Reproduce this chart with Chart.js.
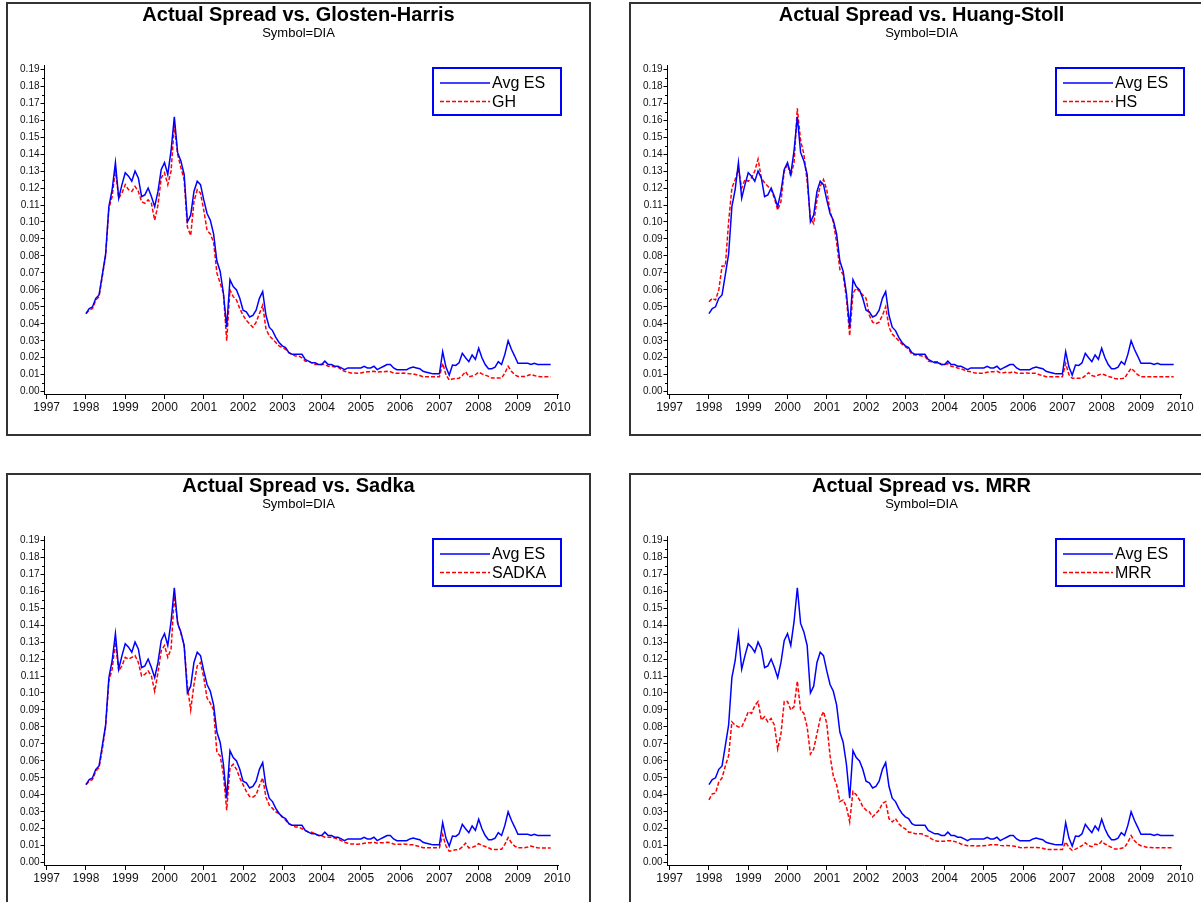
<!DOCTYPE html>
<html>
<head>
<meta charset="utf-8">
<script src="https://cdn.jsdelivr.net/npm/chart.js@4.4.1/dist/chart.umd.min.js"></script>
<style>
html,body{margin:0;padding:0;background:#fff;width:1201px;height:902px;overflow:hidden;}
.panel{position:absolute;width:585px;height:434px;border:2px solid #333;box-sizing:border-box;background:#fff;}
.panel canvas{position:absolute;left:0;top:0;}
</style>
</head>
<body>
<div class="panel" style="left:6px;top:2px"><canvas id="c0" width="581" height="430"></canvas></div>
<div class="panel" style="left:629px;top:2px"><canvas id="c1" width="581" height="430"></canvas></div>
<div class="panel" style="left:6px;top:473px"><canvas id="c2" width="581" height="430"></canvas></div>
<div class="panel" style="left:629px;top:473px"><canvas id="c3" width="581" height="430"></canvas></div>
<script>
// ---- data (monthly, Jan 1998 .. Nov 2009) ----
const startYear = 1998;
const xTickYears = [1997,1998,1999,2000,2001,2002,2003,2004,2005,2006,2007,2008,2009,2010];
const yMajorTicks = [0.00,0.01,0.02,0.03,0.04,0.05,0.06,0.07,0.08,0.09,0.10,0.11,0.12,0.13,0.14,0.15,0.16,0.17,0.18,0.19];
const panelTitles = ['Actual Spread vs. Glosten-Harris','Actual Spread vs. Huang-Stoll','Actual Spread vs. Sadka','Actual Spread vs. MRR'];
const subtitleText = 'Symbol=DIA';
const actualLabel = 'Avg ES';
const modelLabels = ['GH','HS','SADKA','MRR'];

const avgES = [
0.046,0.049,0.050,0.055,0.057,0.069,0.081,0.109,0.119,0.135,0.114,0.122,
0.129,0.127,0.124,0.130,0.126,0.115,0.116,0.120,0.115,0.109,0.118,0.131,
0.135,0.128,0.142,0.162,0.141,0.136,0.128,0.100,0.104,0.118,0.124,0.122,
0.113,0.105,0.101,0.093,0.077,0.071,0.058,0.038,0.066,0.062,0.060,0.055,
0.048,0.047,0.044,0.045,0.048,0.055,0.059,0.045,0.038,0.036,0.032,0.029,
0.027,0.026,0.023,0.022,0.022,0.022,0.022,0.019,0.018,0.017,0.017,0.016,
0.016,0.018,0.016,0.016,0.015,0.015,0.014,0.013,0.014,0.014,0.014,0.014,
0.014,0.015,0.014,0.014,0.015,0.013,0.014,0.015,0.016,0.016,0.014,0.013,
0.013,0.013,0.013,0.014,0.0145,0.014,0.0135,0.012,0.0115,0.011,0.0105,0.0105,
0.0105,0.0236,0.0145,0.0098,0.0157,0.0155,0.017,0.0226,0.020,0.0177,0.0216,0.019,
0.0256,0.020,0.016,0.0135,0.0135,0.0145,0.0177,0.016,0.022,0.030,0.025,0.021,
0.0167,0.0167,0.0167,0.0167,0.016,0.0167,0.016,0.016,0.016,0.016,0.016
];
const ghSpread = [
0.046,0.048,0.049,0.054,0.056,0.068,0.080,0.108,0.115,0.131,0.114,0.117,
0.122,0.119,0.118,0.121,0.118,0.112,0.111,0.113,0.111,0.101,0.110,0.126,
0.129,0.122,0.130,0.157,0.140,0.132,0.125,0.097,0.092,0.112,0.119,0.117,
0.107,0.095,0.093,0.088,0.070,0.064,0.058,0.030,0.060,0.056,0.054,0.049,
0.045,0.042,0.040,0.038,0.041,0.046,0.051,0.037,0.033,0.031,0.029,0.027,
0.026,0.025,0.023,0.022,0.021,0.021,0.020,0.018,0.018,0.017,0.016,0.016,
0.016,0.016,0.015,0.015,0.0145,0.0145,0.013,0.012,0.0115,0.011,0.011,0.0108,
0.011,0.0115,0.0118,0.0118,0.012,0.0115,0.0118,0.0118,0.012,0.0118,0.011,0.0108,
0.0108,0.011,0.0108,0.0105,0.0105,0.010,0.0095,0.0088,0.0088,0.0088,0.0088,0.0088,
0.0088,0.0167,0.010,0.0069,0.0075,0.0078,0.0079,0.0095,0.0118,0.0088,0.0092,0.010,
0.0115,0.0105,0.0098,0.009,0.008,0.008,0.008,0.008,0.011,0.015,0.012,0.010,
0.009,0.009,0.009,0.0095,0.0102,0.0095,0.009,0.0088,0.0088,0.0088,0.0088
];
const hsSpread = [
0.053,0.055,0.054,0.060,0.074,0.074,0.100,0.120,0.125,0.131,0.120,0.125,
0.124,0.126,0.130,0.137,0.126,0.123,0.121,0.119,0.114,0.107,0.112,0.130,
0.134,0.127,0.135,0.167,0.148,0.140,0.124,0.102,0.099,0.113,0.121,0.125,
0.119,0.106,0.100,0.088,0.072,0.069,0.055,0.033,0.058,0.061,0.059,0.057,
0.055,0.045,0.041,0.040,0.041,0.045,0.050,0.038,0.034,0.032,0.030,0.028,
0.0265,0.025,0.022,0.0216,0.0216,0.021,0.021,0.018,0.0177,0.0177,0.0177,0.016,
0.016,0.0165,0.015,0.0147,0.014,0.0135,0.0128,0.012,0.0118,0.0112,0.0108,0.0108,
0.011,0.0115,0.0118,0.0118,0.012,0.0112,0.0112,0.0115,0.0112,0.0118,0.011,0.0108,
0.0108,0.011,0.0108,0.0108,0.0108,0.010,0.0095,0.0088,0.0088,0.0088,0.0088,0.0088,
0.0088,0.0167,0.010,0.0079,0.0079,0.0079,0.0079,0.0095,0.0112,0.0095,0.009,0.0098,
0.0105,0.0098,0.009,0.0085,0.0078,0.0075,0.0077,0.0079,0.011,0.0138,0.012,0.010,
0.0088,0.0088,0.0088,0.0088,0.0088,0.0088,0.0088,0.0088,0.0088,0.0088,0.0088
];
const sadkaSpread = [
0.046,0.048,0.049,0.054,0.056,0.067,0.080,0.107,0.114,0.130,0.113,0.116,
0.121,0.120,0.121,0.122,0.118,0.110,0.111,0.113,0.110,0.101,0.112,0.125,
0.128,0.121,0.126,0.157,0.142,0.135,0.128,0.104,0.090,0.105,0.116,0.118,
0.109,0.097,0.094,0.090,0.065,0.063,0.052,0.031,0.056,0.058,0.055,0.050,
0.046,0.042,0.039,0.0386,0.040,0.0455,0.050,0.0386,0.034,0.032,0.030,0.029,
0.027,0.025,0.023,0.022,0.021,0.021,0.020,0.019,0.018,0.018,0.017,0.016,
0.016,0.015,0.015,0.015,0.0145,0.014,0.013,0.012,0.0115,0.011,0.011,0.0108,
0.011,0.0115,0.0118,0.0118,0.012,0.0115,0.0118,0.0118,0.012,0.0118,0.011,0.0108,
0.0108,0.011,0.0108,0.0105,0.0105,0.010,0.0095,0.0088,0.0088,0.0088,0.0088,0.0088,
0.0088,0.0165,0.0098,0.0068,0.0072,0.0076,0.0078,0.0093,0.0115,0.0087,0.009,0.0098,
0.0112,0.0102,0.0095,0.0088,0.0078,0.0078,0.0078,0.0079,0.0108,0.0148,0.0118,0.0098,
0.0088,0.0088,0.0088,0.0092,0.0098,0.0092,0.0088,0.0086,0.0086,0.0086,0.0086
];
const mrrSpread = [
0.037,0.0406,0.041,0.0475,0.050,0.057,0.063,0.083,0.081,0.080,0.080,0.084,
0.089,0.088,0.0925,0.095,0.084,0.086,0.083,0.085,0.081,0.067,0.076,0.095,
0.095,0.090,0.092,0.107,0.090,0.088,0.080,0.064,0.067,0.076,0.085,0.089,
0.082,0.063,0.051,0.046,0.036,0.037,0.033,0.024,0.042,0.040,0.037,0.033,
0.031,0.030,0.027,0.029,0.031,0.035,0.036,0.026,0.024,0.026,0.023,0.021,
0.020,0.018,0.018,0.017,0.017,0.017,0.016,0.0155,0.014,0.013,0.0127,0.0127,
0.0127,0.013,0.013,0.0125,0.012,0.011,0.0105,0.010,0.010,0.010,0.0098,0.010,
0.010,0.0102,0.0105,0.0105,0.0106,0.0102,0.010,0.0102,0.010,0.0098,0.0095,0.009,
0.0088,0.009,0.009,0.009,0.009,0.0088,0.0085,0.0078,0.0078,0.0078,0.0078,0.0078,
0.0078,0.0122,0.009,0.0072,0.008,0.009,0.010,0.0118,0.010,0.0094,0.011,0.0105,
0.0127,0.011,0.010,0.009,0.008,0.008,0.0085,0.009,0.012,0.016,0.013,0.011,
0.010,0.0095,0.009,0.009,0.0088,0.0088,0.0088,0.0088,0.0088,0.0088,0.0088
];
const modelSeries = [ghSpread, hsSpread, sadkaSpread, mrrSpread];

// ---- rendering ----
Chart.defaults.font.family = "'Liberation Sans', Arial, sans-serif";
Chart.defaults.color = '#111';

function toPoints(values) {
  return values.map((v, i) => ({ x: startYear + i / 12, y: v }));
}

const boxLegend = {
  id: 'boxLegend',
  afterDraw(chart, args, opts) {
    const { ctx, chartArea } = chart;
    const x0 = chartArea.right + opts.offsetX - opts.width;
    const y0 = chartArea.top + opts.offsetY;
    ctx.save();
    ctx.strokeStyle = opts.borderColor;
    ctx.lineWidth = opts.borderWidth;
    ctx.strokeRect(x0, y0, opts.width, opts.height);
    chart.data.datasets.forEach((ds, k) => {
      const yy = y0 + opts.rowTop + k * opts.rowGap;
      ctx.beginPath();
      ctx.setLineDash(ds.borderDash || []);
      ctx.strokeStyle = ds.borderColor;
      ctx.lineWidth = ds.borderWidth;
      ctx.moveTo(x0 + opts.lineX, yy);
      ctx.lineTo(x0 + opts.lineX + opts.lineLen, yy);
      ctx.stroke();
      ctx.setLineDash([]);
      ctx.fillStyle = '#000';
      ctx.font = opts.font;
      ctx.textBaseline = 'middle';
      ctx.textAlign = 'left';
      ctx.fillText(ds.label, x0 + opts.lineX + opts.lineLen + 2, yy + 1);
    });
    ctx.restore();
  }
};

const minorTicks = {
  id: 'minorTicks',
  afterDraw(chart, args, opts) {
    const ys = chart.scales.y;
    const { ctx, chartArea } = chart;
    ctx.save();
    ctx.strokeStyle = '#000';
    ctx.lineWidth = 1;
    for (let k = 0; k < yMajorTicks.length - 1; k++) {
      const mid = (yMajorTicks[k] + yMajorTicks[k + 1]) / 2;
      const py = Math.round(ys.getPixelForValue(mid)) + 0.5;
      ctx.beginPath();
      ctx.moveTo(chartArea.left - opts.length, py);
      ctx.lineTo(chartArea.left, py);
      ctx.stroke();
    }
    ctx.restore();
  }
};

function makeChart(idx) {
  const ctx = document.getElementById('c' + idx);
  return new Chart(ctx, {
    type: 'line',
    data: {
      datasets: [
        { label: actualLabel, data: toPoints(avgES), borderColor: '#0000ff', borderWidth: 1.5,
          pointRadius: 0, tension: 0, fill: false, xAxisID: 'x', yAxisID: 'y' },
        { label: modelLabels[idx], data: toPoints(modelSeries[idx]), borderColor: '#ff0000', borderWidth: 1.5,
          borderDash: [4, 2], pointRadius: 0, tension: 0, fill: false, xAxisID: 'x', yAxisID: 'y' }
      ]
    },
    options: {
      responsive: false,
      animation: false,
      devicePixelRatio: 1,
      layout: { padding: 0 },
      plugins: {
        legend: { display: false },
        tooltip: { enabled: false },
        title: { display: true, text: panelTitles[idx], color: '#000',
          font: { size: 20, weight: 'bold', lineHeight: 1.05 }, padding: { top: 1, bottom: 0 } },
        subtitle: { display: true, text: subtitleText, color: '#000',
          font: { size: 13, lineHeight: 1.1 }, padding: { top: 0, bottom: 24.7 } },
        boxLegend: { offsetX: 3, offsetY: 3, width: 128, height: 47, rowTop: 15, rowGap: 18.5,
          lineX: 7, lineLen: 50, borderColor: '#0000ff', borderWidth: 2,
          font: "16px 'Liberation Sans', Arial, sans-serif" },
        minorTicks: { length: 2.5 }
      },
      scales: {
        x: {
          type: 'linear', position: 'bottom', min: 1996.944, max: 2010.02,
          afterBuildTicks: s => { s.ticks = xTickYears.map(v => ({ value: v })); },
          afterFit: s => { s.height = 40; },
          grid: { drawOnChartArea: false, drawTicks: true, tickLength: 5, tickColor: '#000' },
          border: { display: true, color: '#000', width: 1 },
          ticks: { padding: 1, maxRotation: 0, autoSkip: false, color: '#111',
            font: { size: 12 }, callback: v => String(v) }
        },
        y: {
          type: 'linear', position: 'left', min: -0.00136, max: 0.1925,
          afterBuildTicks: s => { s.ticks = yMajorTicks.map(v => ({ value: v })); },
          afterFit: s => { s.width = 36.5; },
          grid: { drawOnChartArea: false, drawTicks: true, tickLength: 4, tickColor: '#000' },
          border: { display: true, color: '#000', width: 1 },
          ticks: { padding: 1, autoSkip: false, color: '#111', font: { size: 10 },
            callback: v => Number(v).toFixed(2) }
        },
        yr: {
          type: 'linear', position: 'right', display: true,
          grid: { display: false, drawTicks: false },
          border: { display: false },
          ticks: { display: false },
          afterFit: s => { s.width = 31; }
        }
      }
    },
    plugins: [boxLegend, minorTicks]
  });
}

for (let i = 0; i < 4; i++) makeChart(i);
</script>
</body>
</html>
